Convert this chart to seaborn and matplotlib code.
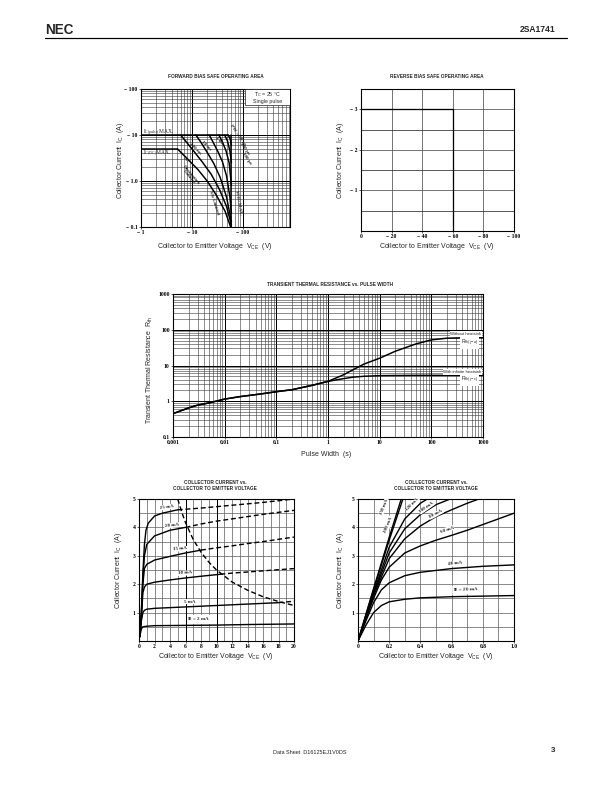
import numpy as np
import pandas as pd
import matplotlib
matplotlib.use('Agg')
import matplotlib.pyplot as plt
import matplotlib.patches as mpatches
import seaborn as sns
from matplotlib.ticker import FixedLocator, NullFormatter

# ---------------- data ----------------
# Forward bias safe operating area (|VCE| in V, |IC| in A)
fb_pulse_v = [1, 52]
fb_pulse_i = [10, 10]
fb_dcmax_v = [1, 5.2]
fb_dcmax_i = [5, 5]
fb_dc_v = [5.2, 8, 13, 20, 30, 45, 58]
fb_dc_i = [5.0, 3.1, 1.8, 1.0, 0.5, 0.22, 0.1]
fb_100ms_v = [6, 8, 11, 16, 24, 35, 48, 60]
fb_100ms_i = [10, 6.8, 4.4, 2.6, 1.4, 0.65, 0.28, 0.11]
fb_10ms_v = [12, 15, 20, 27, 36, 48, 60]
fb_10ms_i = [10, 7, 4.2, 2.4, 1.2, 0.45, 0.13]
fb_1ms_v = [22, 27, 33, 40, 48, 56, 60]
fb_1ms_i = [10, 6.5, 4.2, 2.6, 1.3, 0.45, 0.2]
fb_300us_v = [34, 40, 47, 54, 60]
fb_300us_i = [10, 7, 4.5, 2.5, 0.8]
fb_100us_v = [44, 50, 56, 60]
fb_100us_i = [10, 7.5, 4.5, 2.5]
fb_50us_v = [52, 57, 60]
fb_50us_i = [10, 8, 6]
fb_vceo_v = [60, 60]
fb_vceo_i = [0.1, 10]
fb_xticks = [1, 10, 100]
fb_xlabels = ['\u2212 1', '\u2212 10', '\u2212 100']
fb_yticks = [0.1, 1, 10, 100]
fb_ylabels = ['\u2212 0.1', '\u2212 1.0', '\u2212 10', '\u2212 100']

# Reverse bias safe operating area
rb_v = [0, 60, 60]
rb_i = [3, 3, 0]
rb_xticks = [0, 20, 40, 60, 80, 100]
rb_xlabels = ['0', '\u2212 20', '\u2212 40', '\u2212 60', '\u2212 80', '\u2212 100']
rb_yticks = [1, 2, 3]
rb_ylabels = ['\u2212 1', '\u2212 2', '\u2212 3']

# Transient thermal resistance vs pulse width
th_pw = [0.001, 0.002, 0.003, 0.005, 0.01, 0.02, 0.05, 0.1, 0.2, 0.5, 1, 2, 3, 5,
         10, 20, 50, 100, 200, 500, 1000]
th_without = [0.45, 0.65, 0.78, 0.9, 1.15, 1.35, 1.6, 1.85, 2.1, 2.8, 3.6, 5.5, 7.5, 11,
              16, 25, 40, 52, 58, 60, 60]
th_infinite = [0.45, 0.65, 0.78, 0.9, 1.15, 1.35, 1.6, 1.85, 2.1, 2.8, 3.6, 4.3, 4.7, 5.0,
               5.2, 5.25, 5.3, 5.3, 5.3, 5.3, 5.3]
th_xticks = [0.001, 0.01, 0.1, 1, 10, 100, 1000]
th_xlabels = ['0.001', '0.01', '0.1', '1', '10', '100', '1000']
th_yticks = [0.1, 1, 10, 100, 1000]
th_ylabels = ['0.1', '1', '10', '100', '1000']

# IC vs VCE, 0..20 V  (solid part, dashed part beyond dissipation limit)
ce20_labels = ['2 mA', '5 mA', '10 mA', '15 mA', '20 mA', '25 mA']
ce20_solid_v = [
    [0.1, 0.3, 0.5, 1, 2, 6, 10, 14, 20],
    [0.1, 0.3, 0.5, 0.7, 1, 2, 6, 10, 14, 18],
    [0.1, 0.3, 0.5, 0.7, 1, 2, 4, 6, 8, 10.5],
    [0.1, 0.3, 0.5, 0.7, 1, 2, 4, 6, 8],
    [0.1, 0.3, 0.5, 0.7, 1, 2, 4, 6],
    [0.1, 0.3, 0.5, 0.7, 0.9, 1.2, 2, 3, 4, 5],
]
ce20_solid_i = [
    [0.15, 0.42, 0.5, 0.52, 0.54, 0.55, 0.56, 0.58, 0.6],
    [0.15, 0.7, 1.0, 1.08, 1.12, 1.15, 1.2, 1.25, 1.3, 1.35],
    [0.15, 0.8, 1.7, 1.9, 2.0, 2.07, 2.15, 2.22, 2.28, 2.35],
    [0.15, 0.9, 2.0, 2.55, 2.7, 2.85, 2.98, 3.1, 3.2],
    [0.15, 0.95, 2.2, 3.0, 3.4, 3.7, 3.9, 4.0],
    [0.15, 1.0, 2.4, 3.4, 3.9, 4.15, 4.4, 4.5, 4.56, 4.62],
]
ce20_dash_v = [
    [],
    [18, 20],
    [10.5, 12, 14, 16, 18, 20],
    [8, 10, 12, 14, 16, 18, 20],
    [6, 8, 10, 12, 14, 16, 18, 20],
    [5, 8, 10, 12, 14, 16, 18, 20],
]
ce20_dash_i = [
    [],
    [1.35, 1.4],
    [2.35, 2.39, 2.43, 2.47, 2.51, 2.55],
    [3.2, 3.28, 3.35, 3.43, 3.5, 3.58, 3.66],
    [4.0, 4.12, 4.22, 4.3, 4.38, 4.46, 4.53, 4.6],
    [4.62, 4.68, 4.73, 4.78, 4.83, 4.88, 4.94, 5.0],
]
pc_v = [5.0, 5.5, 6, 7, 8, 9, 10, 12, 14, 16, 18, 20]
pc_i = [5.0, 4.55, 4.17, 3.57, 3.13, 2.78, 2.5, 2.08, 1.79, 1.56, 1.39, 1.25]
ce20_xticks = [0, 2, 4, 6, 8, 10, 12, 14, 16, 18, 20]
ce20_yticks = [1, 2, 3, 4, 5]

# IC vs VCE, 0..1 V
ce1_labels = ['20 mA', '40 mA', '60 mA', '80 mA', '100 mA', '120 mA', '150 mA', '200 mA']
ce1_v = [
    [0, 0.05, 0.1, 0.15, 0.2, 0.3, 0.4, 0.6, 0.8, 1.0],
    [0, 0.05, 0.1, 0.15, 0.2, 0.3, 0.4, 0.6, 0.8, 1.0],
    [0, 0.05, 0.1, 0.15, 0.2, 0.3, 0.4, 0.5, 0.6, 0.7, 0.8, 0.9, 1.0],
    [0, 0.05, 0.1, 0.2, 0.3, 0.4, 0.5, 0.6, 0.7, 0.8],
    [0, 0.05, 0.1, 0.2, 0.3, 0.4, 0.5, 0.6],
    [0, 0.05, 0.1, 0.2, 0.3, 0.4, 0.45],
    [0, 0.1, 0.2, 0.3],
    [0, 0.1, 0.2, 0.28],
]
ce1_i = [
    [0, 0.55, 1.0, 1.25, 1.38, 1.47, 1.52, 1.56, 1.58, 1.6],
    [0, 0.7, 1.35, 1.8, 2.05, 2.3, 2.42, 2.55, 2.63, 2.68],
    [0, 0.78, 1.5, 2.15, 2.6, 3.1, 3.35, 3.55, 3.72, 3.9, 4.1, 4.3, 4.5],
    [0, 0.8, 1.6, 2.9, 3.6, 4.05, 4.38, 4.62, 4.85, 5.05],
    [0, 0.82, 1.65, 3.1, 3.95, 4.45, 4.8, 5.02],
    [0, 0.85, 1.7, 3.3, 4.3, 4.85, 5.02],
    [0, 1.8, 3.55, 5.2],
    [0, 1.85, 3.65, 5.05],
]
ce1_xticks = [0, 0.2, 0.4, 0.6, 0.8, 1.0]
ce1_xlabels = ['0', '0.2', '0.4', '0.6', '0.8', '1.0']
ce1_yticks = [1, 2, 3, 4, 5]

# ---------------- figure ----------------
sns.set_theme(style='white')
plt.rcParams['font.family'] = ['Liberation Sans', 'DejaVu Sans']
plt.rcParams['mathtext.fontset'] = 'custom'
plt.rcParams['mathtext.rm'] = 'Liberation Sans'
plt.rcParams['mathtext.it'] = 'Liberation Sans:italic'
plt.rcParams['axes.edgecolor'] = 'black'

W, H = 612, 792
fig = plt.figure(figsize=(W / 72, H / 72), dpi=72)
fig.patch.set_facecolor('white')

TICKFONT = dict(family=['Liberation Serif', 'DejaVu Serif'], weight='bold', size=5.6)
TITLEFONT = dict(family=['Liberation Sans'], weight='bold', size=4.8)


def add_ax(l, t, r, b):
    return fig.add_axes([l / W, 1 - b / H, (r - l) / W, (b - t) / H])


def ptext(x, y, s, **kw):
    kw.setdefault('ha', 'center')
    kw.setdefault('va', 'center')
    fig.text(x / W, 1 - y / H, s, **kw)


def finish(ax):
    for s in ax.spines.values():
        s.set_visible(True)
        s.set_color('black')
        s.set_linewidth(1.1)
    ax.tick_params(which='major', direction='out', length=1.8, width=0.6, pad=1.5,
                   colors='black', left=True, bottom=True)
    ax.tick_params(which='minor', length=0)
    ax.set_xlabel('')
    ax.set_ylabel('')
    ax.set_axisbelow(True)


def draw_lines(ax, curves, lw=1.3):
    frames = []
    for k, (v, i, style) in curves.items():
        if len(v) == 0:
            continue
        frames.append(pd.DataFrame({'V': v, 'I': i, 'curve': k, 'seg': style}))
    df = pd.concat(frames, ignore_index=True)
    sns.lineplot(data=df, x='V', y='I', units='curve', style='seg', estimator=None,
                 sort=False, color='black', lw=lw, ax=ax, legend=False,
                 dashes={'solid': '', 'dashed': (3.5, 2)})


# ---- header / footer ----
ptext(45, 30, 'NEC', ha='left', fontsize=13.5, fontweight='bold',
      family=['Liberation Sans'])
ptext(555, 29, '2SA1741', ha='right', fontsize=8.5, fontweight='bold')
fig.add_artist(matplotlib.lines.Line2D([45 / W, 567 / W], [1 - 38 / H, 1 - 38 / H],
                                       color='black', lw=1.2))
ptext(273, 752, 'Data Sheet  D16125EJ1V0DS', ha='left', fontsize=5.5)
ptext(555, 751, '3', ha='right', fontsize=8, fontweight='bold')

# ---- 1: forward bias SOA ----
ax1 = add_ax(141, 89, 290, 227)
ax1.set_xscale('log')
ax1.set_yscale('log')
draw_lines(ax1, {
    'pulse': (fb_pulse_v, fb_pulse_i, 'solid'),
    'dcmax': (fb_dcmax_v, fb_dcmax_i, 'solid'),
    'dc': (fb_dc_v, fb_dc_i, 'solid'),
    '100ms': (fb_100ms_v, fb_100ms_i, 'solid'),
    '10ms': (fb_10ms_v, fb_10ms_i, 'solid'),
    '1ms': (fb_1ms_v, fb_1ms_i, 'solid'),
    '300us': (fb_300us_v, fb_300us_i, 'solid'),
    '100us': (fb_100us_v, fb_100us_i, 'solid'),
    '50us': (fb_50us_v, fb_50us_i, 'solid'),
    'vceo': (fb_vceo_v, fb_vceo_i, 'solid'),
}, lw=1.5)
ax1.set_xlim(1, 850)
ax1.set_ylim(0.1, 100)
ax1.xaxis.set_major_locator(FixedLocator(fb_xticks))
ax1.yaxis.set_major_locator(FixedLocator(fb_yticks))
ax1.xaxis.set_minor_locator(matplotlib.ticker.LogLocator(base=10, subs=np.arange(2, 10)))
ax1.yaxis.set_minor_locator(matplotlib.ticker.LogLocator(base=10, subs=np.arange(2, 10)))
ax1.xaxis.set_minor_formatter(NullFormatter())
ax1.yaxis.set_minor_formatter(NullFormatter())
ax1.set_xticklabels(fb_xlabels, fontdict=TICKFONT)
ax1.set_yticklabels(fb_ylabels, fontdict=TICKFONT)
ax1.grid(which='major', color='black', lw=1.0)
ax1.grid(which='minor', color='#333333', lw=0.55)
finish(ax1)
ax1.add_patch(mpatches.Rectangle((0.70, 0.884), 0.30, 0.116, transform=ax1.transAxes,
                                 fc='white', ec='black', lw=0.6, zorder=4))
ax1.text(0.85, 0.962, 'T$_\\mathregular{C}$ = 25 \u00b0C',
         transform=ax1.transAxes, ha='center', va='center', fontsize=5.3, zorder=5)
ax1.text(0.85, 0.912, 'Single pulse', transform=ax1.transAxes, ha='center', va='center',
         fontsize=5.3, zorder=5)
LBL = dict(family=['Liberation Serif', 'DejaVu Serif'], fontsize=5, fontweight='bold')
ptext(143, 132, r'I$_\mathregular{C(pulse)}$MAX.', ha='left', family=['Liberation Serif'],
      fontsize=5.5)
ptext(143, 153, r'I$_\mathregular{C(DC)}$MAX.', ha='left', family=['Liberation Serif'],
      fontsize=5.5)
ptext(238, 135, 'PW = 50 \u00b5s', rotation=-55, **LBL)
ptext(245, 149, '100 \u00b5s', rotation=-55, **LBL)
ptext(247, 159, '300 \u00b5s', rotation=-55, **LBL)
ptext(219, 141, '1 ms', rotation=-45, **LBL)
ptext(206, 146, '10 ms', rotation=-45, **LBL)
ptext(195, 149, '100 ms', rotation=-45, **LBL)
ptext(186, 160, 'DC', rotation=-45, **LBL)
ptext(190, 176, 'Dissipation\nLimited', rotation=-50, linespacing=0.9, **LBL)
ptext(214, 203, 'S/b Limited', rotation=-72, **LBL)
ptext(238, 203, r'V$_\mathregular{CEO}$ MAX.', rotation=-80, **LBL)
ptext(216, 77, 'FORWARD BIAS SAFE OPERATING AREA', **TITLEFONT)
ptext(121, 160, r'Collector Current  I$_\mathregular{C}$  (A)', rotation=90, fontsize=7)
ptext(215, 247, r'Collector to Emitter Voltage  V$_\mathregular{CE}$  (V)', fontsize=7)

# ---- 2: reverse bias SOA ----
ax2 = add_ax(361, 89, 514, 231)
draw_lines(ax2, {'rb': (rb_v, rb_i, 'solid')}, lw=1.3)
ax2.set_xlim(0, 100)
ax2.set_ylim(0, 3.5)
ax2.xaxis.set_major_locator(FixedLocator(rb_xticks))
ax2.yaxis.set_major_locator(FixedLocator(rb_yticks))
ax2.yaxis.set_minor_locator(FixedLocator([0.5, 1.5, 2.5]))
ax2.set_xticklabels(rb_xlabels, fontdict=TICKFONT)
ax2.set_yticklabels(rb_ylabels, fontdict=TICKFONT)
ax2.grid(which='major', color='#555555', lw=0.8)
ax2.grid(which='minor', axis='y', color='#333333', lw=0.8)
finish(ax2)
ptext(437, 77, 'REVERSE BIAS SAFE OPERATING AREA', **TITLEFONT)
ptext(340, 160, r'Collector Current  I$_\mathregular{C}$  (A)', rotation=90, fontsize=7)
ptext(437, 246, r'Collector to Emitter Voltage  V$_\mathregular{CE}$  (V)', fontsize=7)

# ---- 3: transient thermal resistance ----
ax3 = add_ax(173, 294, 483, 437)
ax3.set_xscale('log')
ax3.set_yscale('log')
draw_lines(ax3, {
    'without': (th_pw, th_without, 'solid'),
    'infinite': (th_pw, th_infinite, 'solid'),
}, lw=1.5)
ax3.set_xlim(0.001, 1000)
ax3.set_ylim(0.1, 1000)
ax3.xaxis.set_major_locator(FixedLocator(th_xticks))
ax3.yaxis.set_major_locator(FixedLocator(th_yticks))
ax3.xaxis.set_minor_locator(matplotlib.ticker.LogLocator(base=10, subs=np.arange(2, 10)))
ax3.yaxis.set_minor_locator(matplotlib.ticker.LogLocator(base=10, subs=np.arange(2, 10)))
ax3.xaxis.set_minor_formatter(NullFormatter())
ax3.yaxis.set_minor_formatter(NullFormatter())
ax3.set_xticklabels(th_xlabels, fontdict=TICKFONT)
ax3.set_yticklabels(th_ylabels, fontdict=TICKFONT)
ax3.grid(which='major', color='black', lw=1.0)
ax3.grid(which='minor', color='#333333', lw=0.55)
finish(ax3)
SMALLBOX = dict(boxstyle='square,pad=0.15', fc='white', ec='none')
ax3.text(0.995, 0.72, 'Without heatsink', transform=ax3.transAxes, ha='right', va='center',
         fontsize=4.3, bbox=SMALLBOX, zorder=5)
ax3.text(0.985, 0.655, r'R$_\mathregular{th(j-a)}$', transform=ax3.transAxes, ha='right',
         va='center', fontsize=5.3, bbox=SMALLBOX, zorder=5)
ax3.text(0.995, 0.455, 'With infinite heatsink', transform=ax3.transAxes, ha='right',
         va='center', fontsize=4.3, bbox=SMALLBOX, zorder=5)
ax3.text(0.985, 0.40, r'R$_\mathregular{th(j-c)}$', transform=ax3.transAxes, ha='right',
         va='center', fontsize=5.3, bbox=SMALLBOX, zorder=5)
ptext(330, 284, 'TRANSIENT THERMAL RESISTANCE vs. PULSE WIDTH', **TITLEFONT)
ptext(150, 370, r'Transient Thermal Resistance  R$_\mathregular{th}$', rotation=90,
      fontsize=7)
ptext(326, 454, 'Pulse Width  (s)', fontsize=7)

# ---- 4: IC vs VCE (0..20 V) ----
ax4 = add_ax(139, 499, 294, 641)
curves4 = {}
for k, lab in enumerate(ce20_labels):
    curves4[lab + ' s'] = (ce20_solid_v[k], ce20_solid_i[k], 'solid')
    curves4[lab + ' d'] = (ce20_dash_v[k], ce20_dash_i[k], 'dashed')
curves4['pc'] = (pc_v, pc_i, 'dashed')
draw_lines(ax4, curves4, lw=1.4)
ax4.set_xlim(0, 20)
ax4.set_ylim(0, 5)
ax4.xaxis.set_major_locator(FixedLocator(ce20_xticks))
ax4.yaxis.set_major_locator(FixedLocator(ce20_yticks))
ax4.xaxis.set_minor_locator(FixedLocator(list(range(1, 20, 2))))
ax4.yaxis.set_minor_locator(FixedLocator([0.5, 1.5, 2.5, 3.5, 4.5]))
ax4.set_xticklabels([str(t) for t in ce20_xticks], fontdict=TICKFONT)
ax4.set_yticklabels([str(t) for t in ce20_yticks], fontdict=TICKFONT)
ax4.grid(which='both', color='#666666', lw=0.75)
for xv in [6, 10]:
    ax4.axvline(xv, color='black', lw=1.0, zorder=1)
finish(ax4)
LB4 = dict(fontsize=5, ha='center', va='center', zorder=5,
           family=['Liberation Serif', 'DejaVu Serif'], fontweight='bold',
           bbox=dict(boxstyle='square,pad=0.1', fc='white', ec='none'))
ax4.text(3.6, 4.72, '25 mA', rotation=8, **LB4)
ax4.text(4.2, 4.07, '20 mA', rotation=6, **LB4)
ax4.text(5.3, 3.24, '15 mA', rotation=4, **LB4)
ax4.text(6.0, 2.39, '10 mA', rotation=3, **LB4)
ax4.text(6.6, 1.39, '5 mA', rotation=1, **LB4)
ax4.text(7.7, 0.77, r'I$_\mathregular{B}$ = 2 mA', **LB4)
ptext(215, 483, 'COLLECTOR CURRENT vs.', **TITLEFONT)
ptext(215, 489, 'COLLECTOR TO EMITTER VOLTAGE', **TITLEFONT)
ptext(119, 570, r'Collector Current  I$_\mathregular{C}$  (A)', rotation=90, fontsize=7)
ptext(216, 657, r'Collector to Emitter Voltage  V$_\mathregular{CE}$  (V)', fontsize=7)

# ---- 5: IC vs VCE (0..1 V) ----
ax5 = add_ax(358, 499, 514, 641)
curves5 = {lab: (ce1_v[k], ce1_i[k], 'solid') for k, lab in enumerate(ce1_labels)}
draw_lines(ax5, curves5, lw=1.4)
ax5.set_xlim(0, 1.0)
ax5.set_ylim(0, 5)
ax5.xaxis.set_major_locator(FixedLocator(ce1_xticks))
ax5.yaxis.set_major_locator(FixedLocator(ce1_yticks))
ax5.xaxis.set_minor_locator(FixedLocator([0.1, 0.3, 0.5, 0.7, 0.9]))
ax5.yaxis.set_minor_locator(FixedLocator([0.5, 1.5, 2.5, 3.5, 4.5]))
ax5.set_xticklabels(ce1_xlabels, fontdict=TICKFONT)
ax5.set_yticklabels([str(t) for t in ce1_yticks], fontdict=TICKFONT)
ax5.grid(which='both', color='#666666', lw=0.75)
finish(ax5)
ax5.text(0.69, 1.8, r'I$_\mathregular{B}$ = 20 mA', rotation=2, **LB4)
ax5.text(0.62, 2.72, '40 mA', rotation=6, **LB4)
ax5.text(0.57, 3.92, '60 mA', rotation=18, **LB4)
ax5.text(0.50, 4.47, '80 mA', rotation=28, **LB4)
ax5.text(0.44, 4.7, '100 mA', rotation=35, **LB4)
ax5.text(0.35, 4.8, '120 mA', rotation=45, **LB4)
ax5.text(0.165, 4.72, '150 mA', rotation=68, **LB4)
ax5.text(0.195, 4.1, '200 mA', rotation=68, **LB4)
ptext(436, 483, 'COLLECTOR CURRENT vs.', **TITLEFONT)
ptext(436, 489, 'COLLECTOR TO EMITTER VOLTAGE', **TITLEFONT)
ptext(340, 570, r'Collector Current  I$_\mathregular{C}$  (A)', rotation=90, fontsize=7)
ptext(436, 657, r'Collector to Emitter Voltage  V$_\mathregular{CE}$  (V)', fontsize=7)

fig.savefig('out.png', dpi=72, facecolor='white')
